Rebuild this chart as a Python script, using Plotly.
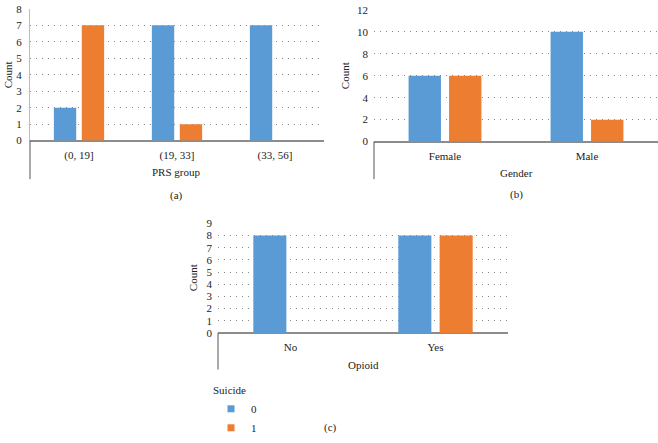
import plotly.graph_objects as go

# Data
prs_groups = ["(0, 19]", "(19, 33]", "(33, 56]"]
prs_s0 = [2, 7, 7]
prs_s1 = [7, 1, 0]

genders = ["Female", "Male"]
gender_s0 = [6, 10]
gender_s1 = [6, 2]

opioid = ["No", "Yes"]
opioid_s0 = [8, 8]
opioid_s1 = [0, 8]

series_names = ["0", "1"]
BLUE = "#5B9BD5"
ORANGE = "#ED7D31"
FONT = "Liberation Serif"
W, H = 658, 443

fig = go.Figure()

def add_pair(cats, s0, s1, xa, ya):
    fig.add_trace(go.Bar(x=cats, y=s0, name=series_names[0], marker_color=BLUE,
                         marker_line_width=0, xaxis=xa, yaxis=ya,
                         showlegend=False, legendgroup="0"))
    fig.add_trace(go.Bar(x=cats, y=s1, name=series_names[1], marker_color=ORANGE,
                         marker_line_width=0, xaxis=xa, yaxis=ya,
                         showlegend=False, legendgroup="1"))

add_pair(prs_groups, prs_s0, prs_s1, "x", "y")
add_pair(genders, gender_s0, gender_s1, "x2", "y2")
add_pair(opioid, opioid_s0, opioid_s1, "x3", "y3")

# legend entries (small square swatches like the reference)
for name, col in zip(series_names, [BLUE, ORANGE]):
    fig.add_trace(go.Scatter(x=[None], y=[None], mode="markers", name=name,
                             marker=dict(symbol="square", size=7, color=col),
                             xaxis="x3", yaxis="y3", legendgroup=name, showlegend=True))

def px_x(p):
    return p / W

def px_y(p):
    return 1 - p / H

axfont = dict(family=FONT, size=11, color="#222")

def xaxis_cfg(x0, x1, anchor):
    return dict(domain=[px_x(x0), px_x(x1)], anchor=anchor, showgrid=False,
                showline=False, ticks="", tickfont=axfont, ticklabelstandoff=6,
                fixedrange=True)

def yaxis_cfg(y0, y1, rng, dtick, anchor, showline=False):
    return dict(domain=[px_y(y0), px_y(y1)], anchor=anchor, range=rng, dtick=dtick,
                showgrid=True, gridcolor="#8a8a8a", griddash="1px,5px", gridwidth=1,
                zeroline=True, zerolinecolor="#8c8c8c", zerolinewidth=2,
                showline=showline, linecolor="#9DC3E6", linewidth=1,
                ticks="", tickfont=axfont, ticklabelstandoff=5, fixedrange=True)

fig.update_layout(
    width=W, height=H, margin=dict(l=0, r=0, t=0, b=0),
    paper_bgcolor="white", plot_bgcolor="white",
    barmode="group", bargap=0.43, bargroupgap=0.2,
    font=dict(family=FONT, size=11, color="#222"),
    xaxis=xaxis_cfg(30, 324, "y"),
    yaxis=yaxis_cfg(140, 3, [0, 8], 1, "x", showline=True),
    xaxis2=xaxis_cfg(374, 658, "y2"),
    yaxis2=yaxis_cfg(141, 4, [0, 12], 2, "x2"),
    xaxis3=xaxis_cfg(218, 508, "y3"),
    yaxis3=yaxis_cfg(340, 226, [0, 9], 1, "x3"),
    legend=dict(x=px_x(211), y=px_y(389), xanchor="left", yanchor="top",
                title=dict(text="Suicide", font=dict(family=FONT, size=11)),
                font=dict(family=FONT, size=11), itemwidth=30,
                tracegroupgap=0, bgcolor="rgba(0,0,0,0)"),
)

# vertical category-area lines below each plot
for (xp, ytop, ybot) in [(30, 140, 180), (374, 141, 180), (218, 340, 378)]:
    fig.add_shape(type="line", xref="paper", yref="paper",
                  x0=px_x(xp), x1=px_x(xp), y0=px_y(ytop), y1=px_y(ybot),
                  line=dict(color="#555", width=1))

annots = [
    ("PRS group", 176, 173, 0), ("Gender", 516, 174, 0), ("Opioid", 363, 373, 0),
    ("(a)", 176, 197, 0), ("(b)", 516, 196, 0), ("(c)", 330, 438, 0),
    ("Count", 8, 72, -90), ("Count", 345, 73, -90), ("Count", 193, 283, -90),
]
for text, xp, yp, ang in annots:
    fig.add_annotation(text=text, xref="paper", yref="paper", x=px_x(xp), y=px_y(yp),
                       showarrow=False, textangle=ang, xanchor="center", yanchor="middle",
                       font=dict(family=FONT, size=11, color="#222"))

fig.write_html("out.html")
